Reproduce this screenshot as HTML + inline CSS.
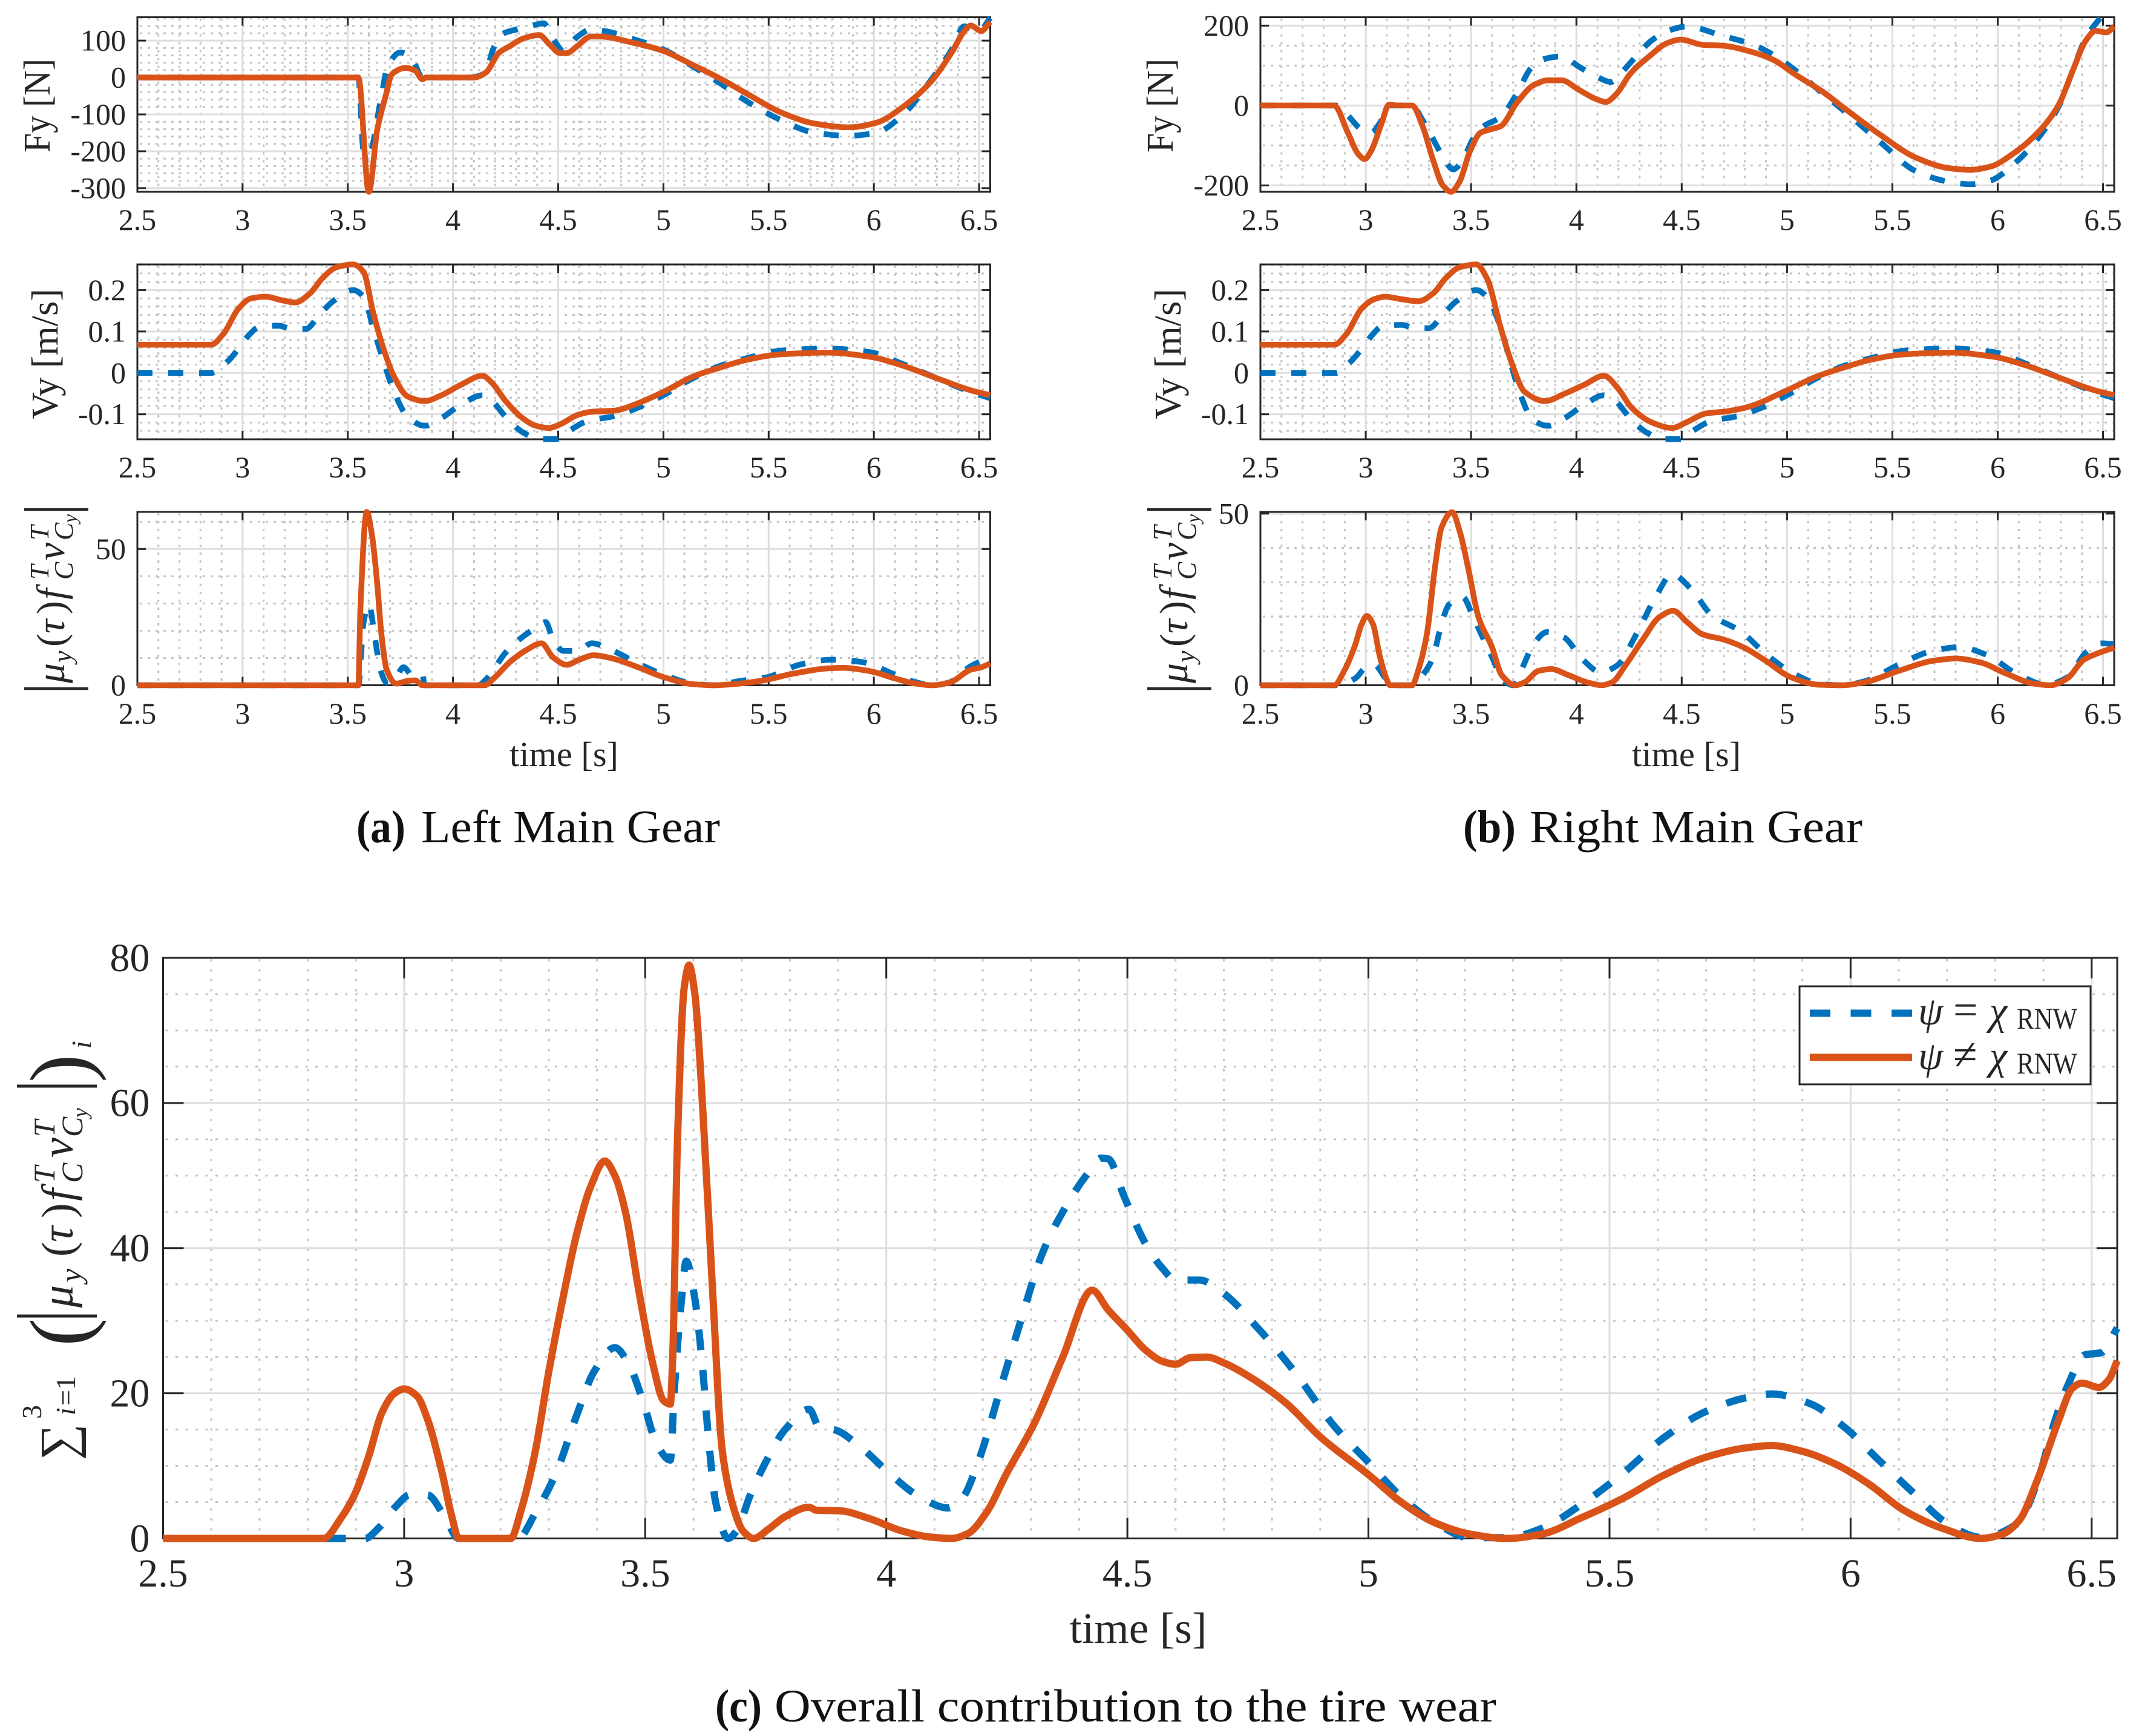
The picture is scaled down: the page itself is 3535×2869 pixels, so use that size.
<!DOCTYPE html>
<html lang="en">
<head>
<meta charset="utf-8">
<title>Tire wear contribution</title>
<style>
html,body{margin:0;padding:0;background:#fff;}
svg{display:block;}
text{font-family:"Liberation Serif","DejaVu Serif",serif;fill:#262626;}
</style>
</head>
<body>
<svg id="figure" xmlns="http://www.w3.org/2000/svg" width="3535" height="2869" viewBox="0 0 3535 2869"></svg>
<script>
// ---------- shared tick data ----------
const timeTicks = [2.5, 3, 3.5, 4, 4.5, 5, 5.5, 6, 6.5];
const timeTickLabels = ['2.5', '3', '3.5', '4', '4.5', '5', '5.5', '6', '6.5'];

const fyLeftTicks = [100, 0, -100, -200, -300];
const fyLeftTickLabels = ['100', '0', '-100', '-200', '-300'];
const vyTicks = [0.2, 0.1, 0, -0.1];
const vyTickLabels = ['0.2', '0.1', '0', '-0.1'];
const wearLeftTicks = [50, 0];
const wearLeftTickLabels = ['50', '0'];
const fyRightTicks = [200, 0, -200];
const fyRightTickLabels = ['200', '0', '-200'];
const wearRightTicks = [50, 0];
const wearRightTickLabels = ['50', '0'];
const totalTicks = [80, 60, 40, 20, 0];
const totalTickLabels = ['80', '60', '40', '20', '0'];

// ---------- series: Fy, left gear ----------
const fyLeftBlueT = [2.5,3.55,3.575,3.6,3.655,3.69,3.75,3.805,3.855,4.08,4.155,4.19,4.235,4.3,4.365,4.43,4.48,4.525,4.59,4.655,4.72,4.85,5,5.14,5.27,5.4,5.56,5.72,5.88,6.01,6.14,6.27,6.37,6.43,6.48,6.51,6.553];
const fyLeftBlueV = [0,0,-200,-210,-66,30,68,51,0,0,13,76,118,130,139,147,101,72,110,130,126,105,76,30,-16,-66,-116,-150,-158,-150,-100,-8,76,139,126,130,162];
const fyLeftRedT = [2.5,3.55,3.6,3.64,3.68,3.71,3.775,3.82,3.855,3.87,4.1,4.155,4.22,4.27,4.33,4.41,4.46,4.51,4.54,4.59,4.655,4.7,4.85,5,5.14,5.27,5.4,5.56,5.72,5.88,6.01,6.14,6.27,6.37,6.43,6.46,6.51,6.553];
const fyLeftRedV = [0,0,-310,-141,-50,9,26,19,-5,0,0,13,68,85,105,115,89,66,66,85,111,111,95,72,34,-3,-45,-95,-125,-135,-123,-79,-12,68,126,141,126,151];

// ---------- series: Vy, left gear ----------
const vyLeftBlueT = [2.5,2.85,2.93,2.98,3.03,3.075,3.17,3.235,3.3,3.365,3.43,3.525,3.575,3.62,3.67,3.72,3.785,3.865,3.945,4.04,4.14,4.185,4.25,4.33,4.41,4.49,4.555,4.635,4.77,4.865,5,5.14,5.27,5.4,5.56,5.78,5.98,6.14,6.3,6.46,6.553];
const vyLeftBlueV = [0,0,0.028,0.058,0.091,0.11,0.114,0.106,0.106,0.14,0.173,0.2,0.184,0.11,0.028,-0.046,-0.106,-0.128,-0.109,-0.076,-0.054,-0.068,-0.106,-0.143,-0.16,-0.16,-0.139,-0.117,-0.104,-0.087,-0.054,-0.013,0.017,0.036,0.054,0.059,0.05,0.021,-0.013,-0.046,-0.061];
const vyLeftRedT = [2.5,2.85,2.91,2.98,3.04,3.11,3.19,3.25,3.32,3.38,3.445,3.525,3.575,3.62,3.67,3.72,3.785,3.865,3.945,4.04,4.14,4.185,4.25,4.33,4.395,4.455,4.51,4.59,4.655,4.77,4.865,5,5.14,5.27,5.4,5.56,5.78,5.98,6.14,6.3,6.46,6.553];
const vyLeftRedV = [0.068,0.068,0.095,0.155,0.18,0.184,0.175,0.17,0.192,0.229,0.255,0.262,0.244,0.147,0.058,-0.009,-0.057,-0.068,-0.054,-0.028,-0.007,-0.024,-0.068,-0.109,-0.128,-0.133,-0.124,-0.102,-0.094,-0.091,-0.076,-0.046,-0.009,0.013,0.032,0.045,0.049,0.039,0.017,-0.013,-0.042,-0.054];

// ---------- series: wear, left gear ----------
const wearLeftBlueT = [2.5,3.55,3.575,3.6,3.63,3.655,3.685,3.72,3.765,3.805,3.855,3.865,4.12,4.155,4.2,4.25,4.315,4.38,4.44,4.475,4.525,4.59,4.66,4.75,4.88,5,5.14,5.24,5.365,5.49,5.65,5.8,5.945,6.1,6.2,6.28,6.36,6.46,6.553];
const wearLeftBlueV = [0,0,23,29.6,16.8,5.7,1,2,6.6,3.9,3.9,0,0,2,6.6,12,16.8,20.4,23.2,16.8,12.6,12.6,15.4,13,8,3.9,0.6,0,1.6,2.9,7.6,9.4,8.5,3.9,1.1,0,1.1,7,10.3];
const wearLeftRedT = [2.5,3.55,3.56,3.59,3.615,3.64,3.66,3.685,3.73,3.785,3.82,3.855,4.15,4.2,4.27,4.35,4.42,4.475,4.54,4.6,4.67,4.75,4.88,5,5.14,5.24,5.33,5.46,5.62,5.78,5.85,5.98,6.1,6.2,6.28,6.36,6.46,6.51,6.553];
const wearLeftRedV = [0,0,28,63.6,55,37,18.6,5.7,0.6,1.6,1.8,0,0,3,8.5,13,15.4,10.3,7.5,9.4,11,10,6.6,3,0.4,0,0.4,1.6,4.3,6.2,6.4,5.2,2.5,0.6,0,1,5.7,6.6,8];

// ---------- series: Fy, right gear ----------
const fyRightBlueT = [2.5,2.86,2.915,2.98,3.025,3.075,3.11,3.22,3.27,3.335,3.38,3.415,3.46,3.51,3.56,3.64,3.72,3.785,3.85,3.93,4.01,4.1,4.165,4.215,4.28,4.36,4.435,4.525,4.69,4.84,4.94,5.035,5.165,5.29,5.45,5.61,5.77,5.87,5.965,6.08,6.19,6.29,6.355,6.42,6.485,6.553];
const fyRightBlueV = [0,0,-25,-60,-68,-37,0,0,-37,-99,-141,-160,-137,-83,-52,-29,32,94,117,123,98,71,59,83,121,164,187,198,175,152,125,90,32,-22,-95,-164,-191,-197,-188,-145,-83,-2,86,171,218,262];
const fyRightRedT = [2.5,2.85,2.915,2.965,2.995,3.025,3.075,3.11,3.155,3.22,3.27,3.32,3.365,3.405,3.445,3.495,3.545,3.59,3.64,3.72,3.8,3.865,3.93,4.01,4.09,4.14,4.19,4.255,4.35,4.43,4.495,4.6,4.69,4.84,4.94,5.035,5.165,5.29,5.45,5.61,5.77,5.87,5.965,6.08,6.19,6.29,6.355,6.42,6.465,6.515,6.553];
const fyRightRedV = [0,0,-68,-122,-134,-114,-45,2,0,0,-52,-137,-199,-216,-191,-114,-68,-60,-52,9,52,63,63,40,17,9,29,79,125,156,165,152,150,133,113,79,36,-14,-76,-130,-157,-161,-153,-118,-68,2,86,164,187,183,198];

// ---------- series: Vy, right gear ----------
const vyRightBlueT = [2.5,2.86,2.93,2.98,3.03,3.075,3.17,3.235,3.3,3.365,3.43,3.525,3.575,3.64,3.69,3.74,3.79,3.865,3.945,4.04,4.13,4.185,4.25,4.33,4.41,4.49,4.555,4.635,4.77,4.865,5,5.14,5.27,5.4,5.56,5.78,5.98,6.14,6.3,6.46,6.553];
const vyRightBlueV = [0,0,0.028,0.058,0.091,0.112,0.116,0.108,0.108,0.14,0.173,0.2,0.184,0.11,0.02,-0.06,-0.112,-0.128,-0.109,-0.076,-0.054,-0.068,-0.106,-0.143,-0.16,-0.16,-0.139,-0.117,-0.104,-0.087,-0.054,-0.013,0.017,0.036,0.054,0.059,0.05,0.021,-0.013,-0.046,-0.061];
const vyRightRedT = [2.5,2.85,2.91,2.98,3.04,3.09,3.17,3.25,3.32,3.38,3.445,3.525,3.575,3.64,3.69,3.755,3.85,3.945,4.04,4.13,4.2,4.26,4.36,4.455,4.52,4.615,4.71,4.81,5,5.14,5.27,5.4,5.56,5.78,5.98,6.14,6.3,6.46,6.553];
const vyRightRedV = [0.068,0.068,0.095,0.155,0.178,0.184,0.178,0.173,0.192,0.229,0.255,0.262,0.229,0.11,0.028,-0.046,-0.068,-0.05,-0.028,-0.007,-0.039,-0.083,-0.12,-0.133,-0.12,-0.098,-0.093,-0.083,-0.042,-0.009,0.013,0.032,0.045,0.049,0.039,0.017,-0.013,-0.042,-0.054];

// ---------- series: wear, right gear ----------
const wearRightBlueT = [2.5,2.86,2.95,2.995,3.04,3.09,3.115,3.22,3.27,3.32,3.35,3.395,3.46,3.51,3.555,3.605,3.65,3.7,3.745,3.795,3.86,3.94,4.03,4.115,4.19,4.29,4.37,4.455,4.545,4.64,4.785,4.89,5.02,5.15,5.26,5.37,5.53,5.69,5.82,5.945,6.1,6.23,6.33,6.42,6.49,6.553];
const wearRightBlueV = [0,0,2,4.9,6,2.3,0,0,3,8.2,15.5,23.5,25.7,19.9,14,7.5,1.6,0,5.3,11.8,15.5,14,7.5,3.8,5.6,15.5,25,32.3,28,20.6,15.5,9.6,3.8,0.5,0,1.2,6,10,11.1,8.9,3,0.15,2.3,9.6,12.2,12];
const wearRightRedT = [2.5,2.85,2.9,2.95,2.98,3.005,3.035,3.065,3.1,3.115,3.22,3.25,3.29,3.33,3.36,3.41,3.45,3.49,3.535,3.6,3.645,3.71,3.755,3.82,3.88,3.96,4.06,4.12,4.17,4.235,4.315,4.395,4.46,4.525,4.6,4.7,4.795,4.89,5.02,5.15,5.26,5.37,5.53,5.69,5.8,5.915,6.04,6.17,6.25,6.33,6.41,6.475,6.553];
const wearRightRedV = [0,0,4.5,11.8,17.7,20.2,17.7,8.9,1.6,0,0,4.5,14.8,35,46,50.4,44,33,19.9,11,3,0,0.9,4.2,4.7,3,0.7,0,0.9,6,13.3,19.9,21.7,18.4,14.8,13.3,11,7.5,2.3,0.15,0,0.9,4.2,7.1,7.8,6.7,3.4,0.5,0,2,7.5,9.3,11];

// ---------- series: overall contribution ----------
const totalBlueT = [2.5,2.919,2.948,2.984,3.012,3.048,3.084,3.113,3.236,3.272,3.315,3.358,3.394,3.437,3.466,3.495,3.524,3.552,3.56,3.574,3.585,3.603,3.617,3.631,3.646,3.672,3.689,3.718,3.746,3.79,3.84,3.862,3.89,3.948,4.006,4.063,4.128,4.157,4.193,4.236,4.279,4.322,4.366,4.42,4.445,4.46,4.494,4.537,4.573,4.6,4.65,4.695,4.773,4.844,4.93,5,5.07,5.14,5.21,5.287,5.36,5.44,5.53,5.615,5.7,5.785,5.837,5.915,5.986,6.057,6.13,6.2,6.27,6.345,6.387,6.42,6.45,6.486,6.52,6.553];
const totalBlueV = [0,0,1.5,4.5,6,6,3,0,0,3.5,9,17,23,26.3,24,19,13,10.8,20,32,38.2,33,25,14,5,0,1,6,10,15,17.8,15.2,15,12.5,9,6,4.2,5.5,11,20.5,30,39,45,50.5,52.4,52.3,47,40.7,37.2,35.6,35.6,34,28.8,23.2,15.4,10.5,5.6,2.1,0.1,0.1,1.4,4.6,9.1,14,17.5,19.4,19.9,18.6,15.4,10.9,6.3,2.1,0.15,2,7.7,15.4,21,25.3,25.6,29];
const totalRedT = [2.5,2.833,2.869,2.897,2.926,2.955,2.98,3,3.027,3.048,3.077,3.099,3.113,3.221,3.243,3.272,3.3,3.329,3.358,3.387,3.416,3.437,3.459,3.487,3.516,3.538,3.552,3.557,3.567,3.581,3.591,3.603,3.617,3.639,3.66,3.682,3.703,3.725,3.754,3.79,3.84,3.854,3.905,3.962,4.034,4.09,4.135,4.17,4.207,4.25,4.308,4.366,4.427,4.46,4.5,4.537,4.573,4.6,4.63,4.665,4.7,4.76,4.83,4.9,5,5.07,5.14,5.21,5.287,5.36,5.44,5.53,5.615,5.7,5.785,5.837,5.9,5.97,6.04,6.11,6.19,6.27,6.315,6.35,6.387,6.43,6.46,6.48,6.515,6.537,6.553];
const totalRedV = [0,0,2.8,6,11.2,17.5,20,20.6,19.6,16.5,9.5,3,0,0,4,12,23,33,42,48.5,52,50,45,34,24,19,18.5,25,55,76,79,75,62,35,12,4.5,1,0,1.2,3,4.3,3.9,3.8,2.8,1,0.2,0,0.7,3.5,9,16,25,34.2,31.5,28.7,26,24.4,24,24.9,25,24.2,22,18.6,14,8.8,4.9,2.1,0.6,0,0.6,2.8,5.6,8.8,11.2,12.5,12.8,12,10.2,7.4,3.9,1.4,0,0.6,2.5,8,16,20.7,21.4,20.8,22,24.5];

// ---------- drawing helpers ----------
const SVGNS = 'http://www.w3.org/2000/svg';
const fig = document.getElementById('figure');
const BLUE = '#0072BD', RED = '#D95319', AXIS = '#262626', MAJOR = '#dedede', MINOR = '#c4c4c4';

function mk(parent, tag, attrs) {
  const el = document.createElementNS(SVGNS, tag);
  for (const k in attrs) el.setAttribute(k, attrs[k]);
  parent.appendChild(el);
  return el;
}
function hline(parent, x1, x2, y, stroke, w, dash) {
  const a = {x1: x1, x2: x2, y1: y, y2: y, stroke: stroke, 'stroke-width': w};
  if (dash) a['stroke-dasharray'] = dash;
  return mk(parent, 'line', a);
}
function vline(parent, x, y1, y2, stroke, w, dash) {
  const a = {x1: x, x2: x, y1: y1, y2: y2, stroke: stroke, 'stroke-width': w};
  if (dash) a['stroke-dasharray'] = dash;
  return mk(parent, 'line', a);
}
function label(parent, str, x, y, size, anchor, extra) {
  const a = {x: x, y: y, 'font-size': size, 'text-anchor': anchor || 'start'};
  if (extra) for (const k in extra) a[k] = extra[k];
  const t = mk(parent, 'text', a);
  t.textContent = str;
  return t;
}
// monotone cubic path through the data points
function smoothPath(xs, ys) {
  const n = xs.length, d = [], m = [];
  for (let i = 0; i < n - 1; i++) d.push((ys[i + 1] - ys[i]) / (xs[i + 1] - xs[i]));
  m[0] = d[0];
  m[n - 1] = d[n - 2];
  for (let i = 1; i < n - 1; i++) {
    if (d[i - 1] * d[i] <= 0) m[i] = 0;
    else {
      const h0 = xs[i] - xs[i - 1], h1 = xs[i + 1] - xs[i];
      m[i] = 3 * (h0 + h1) / ((2 * h1 + h0) / d[i - 1] + (h1 + 2 * h0) / d[i]);
    }
  }
  let p = 'M' + xs[0].toFixed(1) + ' ' + ys[0].toFixed(1);
  for (let i = 0; i < n - 1; i++) {
    const h = (xs[i + 1] - xs[i]) / 3;
    p += 'C' + (xs[i] + h).toFixed(1) + ' ' + (ys[i] + m[i] * h).toFixed(1) + ' ' +
      (xs[i + 1] - h).toFixed(1) + ' ' + (ys[i + 1] - m[i + 1] * h).toFixed(1) + ' ' +
      xs[i + 1].toFixed(1) + ' ' + ys[i + 1].toFixed(1);
  }
  return p;
}

let clipCount = 0;
function drawPanel(cfg) {
  const g = mk(fig, 'g', {});
  
  
  const L = cfg.left, R = cfg.right, T = cfg.top, B = cfg.bottom;
  const xMin = 2.5, xMax = 6.553;
  const sx = v => L + (v - xMin) / (xMax - xMin) * (R - L);
  const sy = v => T + (cfg.yMax - v) / (cfg.yMax - cfg.yMin) * (B - T);

  // minor grid
  const minor = mk(g, 'g', {});
  
  
  for (let k = 26; k <= 65; k++) {
    const v = k / 10;
    if (k % 5 === 0) continue;
    vline(minor, sx(v), T + 2, B - 2, MINOR, 3, cfg.dots);
  }
  const firstMinor = Math.ceil(cfg.yMin / cfg.yMinorStep);
  const lastMinor = Math.floor(cfg.yMax / cfg.yMinorStep);
  for (let k = firstMinor; k <= lastMinor; k++) {
    const v = k * cfg.yMinorStep;
    if (cfg.yTicks.some(t => Math.abs(t - v) < 1e-6)) continue;
    hline(minor, L + 4, R - 2, sy(v), MINOR, 3, cfg.dots);
  }

  // major grid
  const major = mk(g, 'g', {});
  
  
  timeTicks.forEach(v => { vline(major, sx(v), T, B, MAJOR, 3); });
  cfg.yTicks.forEach(v => { hline(major, L, R, sy(v), MAJOR, 3); });

  // ticks and frame
  const frame = mk(g, 'g', {});
  
  
  timeTicks.forEach(v => {
    vline(frame, sx(v), B, B - cfg.tickLen, AXIS, 3);
    vline(frame, sx(v), T, T + cfg.tickLen, AXIS, 3);
  });
  cfg.yTicks.forEach(v => {
    hline(frame, L, L + cfg.tickLen, sy(v), AXIS, 3);
    hline(frame, R, R - cfg.tickLen, sy(v), AXIS, 3);
  });
  mk(frame, 'rect', {x: L, y: T, width: R - L, height: B - T, fill: 'none', stroke: AXIS, 'stroke-width': 3});

  // tick labels
  const xLabels = mk(g, 'g', {});
  
  
  timeTicks.forEach((v, i) => { label(xLabels, timeTickLabels[i], sx(v), cfg.xLabelY, cfg.tickSize, 'middle'); });
  const yLabels = mk(g, 'g', {});
  
  
  cfg.yTicks.forEach((v, i) => {
    label(yLabels, cfg.yLabels[i], L - cfg.yLabelGap, sy(v) + cfg.tickSize * 0.33, cfg.tickSize, 'end');
  });

  // clipped series
  clipCount++;
  const clipId = 'panel-clip-' + clipCount;
  const clip = mk(g, 'clipPath', {id: clipId});
  mk(clip, 'rect', {x: L - 6, y: T - 6, width: R - L + 14, height: B - T + 12});
  const lines = mk(g, 'g', {'clip-path': 'url(#' + clipId + ')', fill: 'none'});
  const blue = mk(lines, 'path', {
    d: smoothPath(cfg.blueT.map(sx), cfg.blueV.map(sy)),
    stroke: BLUE, 'stroke-width': cfg.blueWidth, 'stroke-dasharray': cfg.dash, 'stroke-linejoin': 'round'
  });
  
  
  const red = mk(lines, 'path', {
    d: smoothPath(cfg.redT.map(sx), cfg.redV.map(sy)),
    stroke: RED, 'stroke-width': cfg.redWidth, 'stroke-linejoin': 'round'
  });
  
  
}

const smallStyle = {tickLen: 14, tickSize: 50, yLabelGap: 19, dots: '4 9', dash: '25 26', blueWidth: 9.5, redWidth: 9.5};
const leftCol = {left: 227, right: 1636.5};
const rightCol = {left: 2083, right: 3494};
const row1 = {top: 28.5, bottom: 317, xLabelY: 380};
const row2 = {top: 437, bottom: 726, xLabelY: 789};
const row3 = {top: 846, bottom: 1132.5, xLabelY: 1196};

drawPanel(Object.assign({name: 'fy-left-plot', yMin: -310, yMax: 163.4, yMinorStep: 20, yTicks: fyLeftTicks, yLabels: fyLeftTickLabels,
  blueT: fyLeftBlueT, blueV: fyLeftBlueV, redT: fyLeftRedT, redV: fyLeftRedV}, smallStyle, leftCol, row1));
drawPanel(Object.assign({name: 'vy-left-plot', yMin: -0.1604, yMax: 0.262, yMinorStep: 0.02, yTicks: vyTicks, yLabels: vyTickLabels,
  blueT: vyLeftBlueT, blueV: vyLeftBlueV, redT: vyLeftRedT, redV: vyLeftRedV}, smallStyle, leftCol, row2));
drawPanel(Object.assign({name: 'wear-left-plot', yMin: 0, yMax: 63.6, yMinorStep: 10, yTicks: wearLeftTicks, yLabels: wearLeftTickLabels,
  blueT: wearLeftBlueT, blueV: wearLeftBlueV, redT: wearLeftRedT, redV: wearLeftRedV}, smallStyle, leftCol, row3));
drawPanel(Object.assign({name: 'fy-right-plot', yMin: -216, yMax: 221, yMinorStep: 50, yTicks: fyRightTicks, yLabels: fyRightTickLabels,
  blueT: fyRightBlueT, blueV: fyRightBlueV, redT: fyRightRedT, redV: fyRightRedV}, smallStyle, rightCol, row1));
drawPanel(Object.assign({name: 'vy-right-plot', yMin: -0.1604, yMax: 0.262, yMinorStep: 0.02, yTicks: vyTicks, yLabels: vyTickLabels,
  blueT: vyRightBlueT, blueV: vyRightBlueV, redT: vyRightRedT, redV: vyRightRedV}, smallStyle, rightCol, row2));
drawPanel(Object.assign({name: 'wear-right-plot', yMin: 0, yMax: 50.5, yMinorStep: 10, yTicks: wearRightTicks, yLabels: wearRightTickLabels,
  blueT: wearRightBlueT, blueV: wearRightBlueV, redT: wearRightRedT, redV: wearRightRedV}, smallStyle, rightCol, row3));
drawPanel({name: 'total-wear-plot', left: 269.5, right: 3499, top: 1583, bottom: 2542.5, xLabelY: 2622,
  yMin: 0, yMax: 80, yMinorStep: 5, yTicks: totalTicks, yLabels: totalTickLabels,
  blueT: totalBlueT, blueV: totalBlueV, redT: totalRedT, redV: totalRedV,
  tickLen: 34, tickSize: 66, yLabelGap: 22, dots: '4 12.5', dash: '34 33', blueWidth: 12, redWidth: 12});

// ---------- axis titles ----------
function rotatedLabel(str, x, y, len, name) {
  const t = label(fig, str, 0, 0, 62, 'middle', {
    transform: 'translate(' + x + ',' + y + ') rotate(-90)',
    textLength: len, lengthAdjust: 'spacingAndGlyphs'
  });
  
  
}
rotatedLabel('Fy  [N]', 82, 174.5, 155, 'fy-left-y-title');
rotatedLabel('Vy  [m/s]', 95, 585, 216, 'vy-left-y-title');
rotatedLabel('Fy  [N]', 1938, 174.5, 155, 'fy-right-y-title');
rotatedLabel('Vy  [m/s]', 1951, 585, 216, 'vy-right-y-title');

function mathPiece(g, str, s, off, size, style) {
  const t = mk(g, 'text', {x: s, y: off, 'font-size': size, 'font-style': style || 'normal'});
  t.textContent = str;
}
function wearLabel(baseX, name) {
  const g = mk(fig, 'g', {transform: 'translate(' + baseX + ',1141) rotate(-90)'});
  
  
  vline(g, 3, -66, 40, AXIS, 4.5);
  mathPiece(g, 'μ', 12, 0, 66, 'italic');
  mathPiece(g, 'y', 46, 12, 44, 'italic');
  mathPiece(g, '(', 72, 0, 66);
  mathPiece(g, 'τ', 94, 0, 66, 'italic');
  mathPiece(g, ')', 126, 0, 66);
  mathPiece(g, 'f', 150, 0, 66, 'italic');
  mathPiece(g, 'T', 183, -26, 44, 'italic');
  mathPiece(g, 'C', 183, 14, 44, 'italic');
  mathPiece(g, 'v', 215, 0, 66, 'italic');
  mathPiece(g, 'T', 248, -26, 44, 'italic');
  mathPiece(g, 'C', 248, 14, 44, 'italic');
  mathPiece(g, 'y', 277, 20, 32, 'italic');
  vline(g, 299, -66, 40, AXIS, 4.5);
}
wearLabel(106, 'wear-left-y-title');
wearLabel(1962, 'wear-right-y-title');

// big y label for the overall plot
const bigY = mk(fig, 'g', {transform: 'translate(120,2415) rotate(-90)'});


mathPiece(bigY, '∑', 2, 4, 84);
mathPiece(bigY, '3', 70, -52, 46);
mathPiece(bigY, 'i', 76, 4, 46, 'italic');
mathPiece(bigY, '=1', 92, 4, 46);
mathPiece(bigY, '(', 190, 26, 140);
vline(bigY, 240, -92, 40, AXIS, 5);
mathPiece(bigY, 'μ', 254, 0, 74, 'italic');
mathPiece(bigY, 'y', 296, 14, 50, 'italic');
mathPiece(bigY, '(', 338, 0, 74);
mathPiece(bigY, 'τ', 362, 0, 74, 'italic');
mathPiece(bigY, ')', 402, 0, 74);
mathPiece(bigY, 'f', 430, 0, 74, 'italic');
mathPiece(bigY, 'T', 460, -30, 50, 'italic');
mathPiece(bigY, 'C', 460, 16, 50, 'italic');
mathPiece(bigY, 'v', 502, 0, 74, 'italic');
mathPiece(bigY, 'T', 536, -30, 50, 'italic');
mathPiece(bigY, 'C', 536, 16, 50, 'italic');
mathPiece(bigY, 'y', 568, 24, 36, 'italic');
vline(bigY, 620, -92, 40, AXIS, 5);
mathPiece(bigY, ')', 626, 26, 140);
mathPiece(bigY, 'i', 682, 30, 46, 'italic');

function timeTitle(x, y, size, len, name) {
  const t = label(fig, 'time [s]', x, y, size, 'middle', {textLength: len, lengthAdjust: 'spacingAndGlyphs'});
  
  
}
timeTitle(932, 1266, 58, 180, 'left-x-title');
timeTitle(2787, 1266, 58, 180, 'right-x-title');
timeTitle(1881, 2715, 72, 227, 'total-x-title');

// ---------- captions ----------
function caption(tag, x1, x2, rest, x3, x4, y, name) {
  const g = mk(fig, 'g', {});
  
  
  label(g, tag, x1, y, 76, 'start', {'font-weight': 'bold', textLength: x2 - x1, lengthAdjust: 'spacingAndGlyphs', style: 'fill:#111'});
  label(g, rest, x3, y, 76, 'start', {textLength: x4 - x3, lengthAdjust: 'spacingAndGlyphs', style: 'fill:#111'});
}
caption('(a)', 589, 670, 'Left Main Gear', 696, 1190, 1392, 'caption-left-main-gear');
caption('(b)', 2418, 2505, 'Right Main Gear', 2528, 3078, 1392, 'caption-right-main-gear');
caption('(c)', 1182, 1259, 'Overall contribution to the tire wear', 1280, 2473, 2845, 'caption-overall-contribution');

// ---------- legend ----------
const legend = mk(fig, 'g', {});


mk(legend, 'rect', {x: 2974, y: 1630, width: 481, height: 162, fill: '#fff', stroke: AXIS, 'stroke-width': 3});
const legendBlueLine = hline(legend, 2991, 3160, 1674.5, BLUE, 12, '34 33.5');


const legendRedLine = hline(legend, 2991, 3160, 1747.5, RED, 12);


label(legend, 'ψ', 3170, 1693, 66, 'start', {'font-style': 'italic'});
label(legend, '=', 3228, 1693, 72);
label(legend, 'χ', 3288, 1693, 66, 'start', {'font-style': 'italic'});
label(legend, 'RNW', 3333, 1700, 50, 'start', {textLength: 100, lengthAdjust: 'spacingAndGlyphs'});
label(legend, 'ψ', 3170, 1767, 66, 'start', {'font-style': 'italic'});
label(legend, '≠', 3228, 1767, 72);
label(legend, 'χ', 3288, 1767, 66, 'start', {'font-style': 'italic'});
label(legend, 'RNW', 3333, 1774, 50, 'start', {textLength: 100, lengthAdjust: 'spacingAndGlyphs'});
</script>
</body>
</html>
